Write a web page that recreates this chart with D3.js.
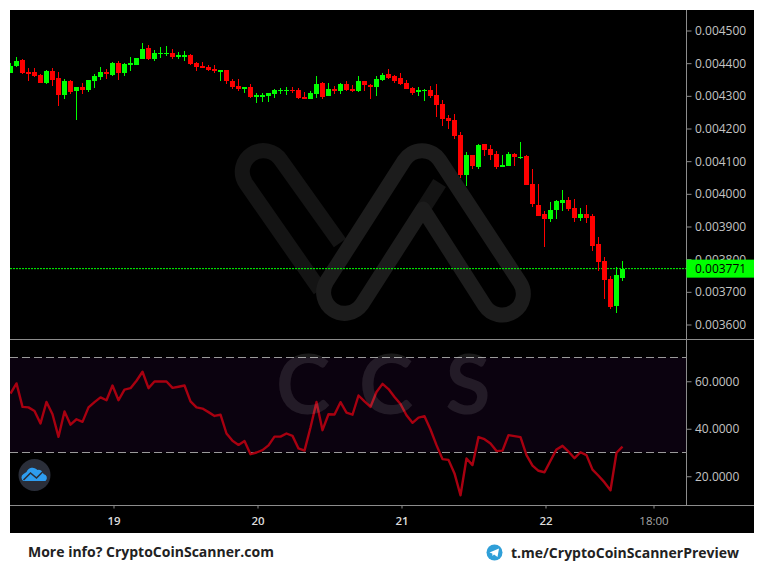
<!DOCTYPE html>
<html><head><meta charset="utf-8">
<script src="https://cdnjs.cloudflare.com/ajax/libs/d3/7.8.5/d3.min.js"></script>
<style>
html,body{margin:0;padding:0;background:#fff;overflow:hidden}
text{font-family:"Open Sans",sans-serif}
</style></head><body>
<svg id="c" width="764" height="580"></svg>
<script>
// prices in millionths
const opens=[4371,4391,4409,4373,4373,4364,4339,4376,4355,4303,4345,4315,4327,4318,4345,4358,4373,4364,4400,4370,4394,4394,4413,4446,4413,4428,4428,4431,4419,4419,4425,4400,4391,4388,4382,4373,4379,
4345,4330,4321,4327,4296,4296,4300,4306,4315,4315,4318,4318,4296,4290,4306,4339,4300,4321,4315,4336,4321,4315,4345,4333,4327,4348,4367,4361,4355,4339,4324,4312,4315,4318,4303,4275,4232,
4226,4180,4058,4119,4082,4153,4137,4122,4082,4085,4122,4110,4116,4030,3966,3938,3923,3951,3972,3981,3957,3926,3938,3932,3846,3794,3739,3657,3742];
const highs=[4399,4418,4412,4385,4385,4367,4379,4385,4373,4352,4348,4327,4339,4348,4367,4388,4382,4404,4407,4400,4419,4416,4462,4456,4440,4449,4453,4443,4434,4437,4428,4404,4404,4394,4394,4379,4379,
4352,4352,4327,4336,4309,4309,4309,4321,4324,4327,4327,4324,4312,4315,4361,4342,4339,4330,4339,4345,4333,4361,4345,4336,4361,4370,4382,4364,4370,4348,4327,4327,4321,4330,4336,4287,4241,
4244,4189,4128,4119,4153,4153,4150,4131,4119,4128,4125,4159,4119,4076,4030,3948,3975,3981,4012,3990,3984,3957,3966,3938,3868,3807,3749,3776,3794];
const lows=[4371,4387,4367,4346,4358,4339,4336,4330,4269,4290,4306,4226,4306,4312,4324,4348,4352,4361,4348,4361,4376,4394,4413,4410,4407,4416,4422,4413,4413,4407,4394,4376,4385,4376,4370,4345,4336,
4321,4315,4309,4293,4278,4281,4281,4293,4306,4303,4309,4290,4290,4290,4293,4290,4300,4306,4306,4315,4312,4312,4315,4290,4300,4345,4352,4339,4333,4321,4303,4300,4284,4293,4235,4208,4198,
4168,4049,4024,4076,4076,4116,4104,4076,4082,4085,4085,4107,4027,3960,3932,3837,3914,3923,3948,3948,3914,3917,3911,3825,3764,3678,3648,3635,3733];
const closes=[4391,4407,4369,4367,4362,4339,4376,4348,4303,4345,4312,4327,4318,4348,4361,4373,4367,4400,4370,4397,4400,4416,4443,4413,4431,4431,4431,4419,4425,4425,4397,4388,4385,4379,4376,4379,4345,
4327,4321,4327,4296,4303,4303,4309,4318,4318,4318,4315,4293,4290,4309,4336,4296,4321,4315,4336,4318,4315,4345,4333,4327,4352,4364,4355,4345,4336,4321,4309,4318,4318,4300,4272,4229,4223,
4177,4058,4119,4085,4150,4134,4119,4082,4088,4122,4113,4113,4027,3969,3932,3923,3951,3978,3981,3954,3926,3938,3926,3840,3791,3736,3654,3752,3771];
const rsi=[54.8,59.1,49.2,49.0,47.5,42.2,51.3,46.1,36.6,47.3,41.7,44.0,42.9,49.0,51.2,53.2,52.0,58.2,52.0,56.5,57.1,60.2,64.0,57.1,59.9,59.9,59.9,57.2,57.7,58.2,51.5,49.0,48.5,47.0,45.4,45.9,38.0,34.9,33.2,34.8,29.3,30.0,31.0,33.0,36.7,36.7,38.0,37.0,31.7,30.8,40.5,51.3,39.4,46.1,
46.0,51.2,46.8,45.9,54.0,51.5,49.2,55.5,58.9,56.7,53.4,50.4,45.7,42.5,44.7,45.3,39.7,33.1,27.2,26.9,21.2,12.0,27.5,24.7,36.5,35.6,33.8,30.6,30.8,37.3,36.9,36.5,28.9,24.5,22.3,21.7,26.5,31.3,32.8,30.4,27.6,30.1,28.9,22.8,20.2,17.4,14.1,29.9,32.5];
const priceTicks=[4500,4400,4300,4200,4100,4000,3900,3800,3700,3600];
const rsiTicks=[60,40,20];
const rsiBands=[70,30];
const lastPrice=3771;
const timeTicks=[0,24,48,72,90];
const timeLabels=["19","20","21","22","18:00"];
const firstHour=-17;

const L=10,R=754,T=10,B=533,AX=686.5,SEP=339.5,XB=505.5;
const green="#00ff00",red="#ff0000";
const svg=d3.select("#c");
const x=d3.scaleLinear().domain([0,144]).range([113.5,113.5+864]);
const candleShift=-1;
const cx=i=>x(firstHour+i)+candleShift;
const y=d3.scaleLinear().domain([4500,3600]).range([30.5,324.5]);
const yr=d3.scaleLinear().domain([70,30]).range([357.5,452.5]);

svg.append("rect").attr("x",L).attr("y",T).attr("width",R-L).attr("height",B-T).attr("fill","#000");

const defs=svg.append("defs");
defs.append("clipPath").attr("id","plot").append("rect").attr("x",L).attr("y",T).attr("width",AX-L).attr("height",SEP-T);
defs.append("clipPath").attr("id","plot2").append("rect").attr("x",L).attr("y",SEP).attr("width",AX-L).attr("height",XB-SEP);

// logo watermark
const wm=svg.append("g").attr("fill","none").attr("stroke-width",15).attr("stroke-linecap","butt").attr("stroke-linejoin","round");
wm.append("path").attr("stroke","#141414").attr("d","M340,243 L280.9,160.2 A21,21 0 0 0 245.7,183.2 L320,290");
wm.append("path").attr("stroke","#141414").attr("d","M423,209 L439.6,183");
wm.append("path").attr("stroke","#1c1c1c").attr("d","M423,209 L484.7,305.5 A21,21 0 0 0 519.9,282.5 L439.6,160.2 A21,21 0 0 0 404.4,160.3 L326.4,281.9 A21,21 0 0 0 361.6,304.7 Z");

// RSI band
svg.append("rect").attr("x",L).attr("width",AX-L).attr("y",yr(70)).attr("height",yr(30)-yr(70)).attr("fill","#0b020f");
svg.selectAll(".band").data(rsiBands).join("line").attr("x1",L).attr("x2",AX)
  .attr("y1",d=>yr(d)).attr("y2",d=>yr(d)).attr("stroke","#9a9a9a").attr("stroke-width",1).attr("stroke-dasharray","8 4");

// RSI line
svg.append("path").datum(rsi).attr("clip-path","url(#plot2)").attr("fill","none").attr("stroke","#a80010").attr("stroke-width",2.4)
  .attr("stroke-linejoin","round")
  .attr("d",d3.line().x((d,i)=>cx(i)).y(d=>yr(d)));

// CCS watermark
svg.append("g").attr("font-size",82).attr("font-weight",700).attr("fill","#fff").attr("fill-opacity",0.1)
  .selectAll("text").data([["C",303],["C",386],["S",468]]).join("text")
  .attr("x",d=>d[1]).attr("y",414).attr("text-anchor","middle").text(d=>d[0]).style("font-family","Lato,sans-serif");

// last price line
svg.append("line").attr("x1",L).attr("x2",AX).attr("y1",y(lastPrice)).attr("y2",y(lastPrice))
  .attr("stroke",green).attr("stroke-width",1).attr("stroke-dasharray","2 1");

// candles
const g=svg.append("g").attr("clip-path","url(#plot)").attr("shape-rendering","crispEdges");
const idx=d3.range(opens.length);
g.selectAll(".w").data(idx).join("rect").attr("x",i=>cx(i)-0.5).attr("width",1)
  .attr("y",i=>y(highs[i])).attr("height",i=>Math.max(1,y(lows[i])-y(highs[i])))
  .attr("fill",i=>closes[i]>=opens[i]?green:red);
g.selectAll(".b").data(idx).join("rect").attr("x",i=>cx(i)-2.5).attr("width",5)
  .attr("y",i=>y(Math.max(opens[i],closes[i]))).attr("height",i=>Math.max(1,Math.abs(y(opens[i])-y(closes[i]))))
  .attr("fill",i=>closes[i]>=opens[i]?green:red);

// axes
const axisCol="#8c8c8c",txt="#c4c4c4";
function style(sel){sel.selectAll("path").remove();sel.selectAll("line").attr("stroke",axisCol);sel.selectAll("text").attr("fill",txt).style("font-size","12px").style("font-family",'"Open Sans",sans-serif');}
svg.append("g").attr("transform",`translate(${AX},0)`).call(d3.axisRight(y).tickValues(priceTicks).tickSize(5).tickPadding(3.5).tickFormat(d=>(d/1e6).toFixed(6))).call(style);
svg.append("g").attr("transform",`translate(${AX},0)`).call(d3.axisRight(yr).tickValues(rsiTicks).tickSize(5).tickPadding(3.5).tickFormat(d=>d.toFixed(4))).call(style);
const xa=svg.append("g").attr("transform",`translate(0,${XB})`).call(d3.axisBottom(x).tickValues(timeTicks).tickSize(3).tickPadding(8).tickFormat((d,i)=>timeLabels[i])).call(style);
xa.selectAll("text").attr("fill",(d,i)=>i<4?"#dcdcdc":"#a8a8a8").style("font-weight",(d,i)=>i<4?600:400).style("font-size","11.5px");

const rules=svg.append("g").attr("stroke",axisCol).attr("stroke-width",1);
rules.append("line").attr("x1",L).attr("x2",R).attr("y1",SEP).attr("y2",SEP);
rules.append("line").attr("x1",L).attr("x2",R).attr("y1",XB).attr("y2",XB);
rules.append("line").attr("x1",AX).attr("x2",AX).attr("y1",T).attr("y2",XB);

// price tag
svg.append("rect").attr("x",AX).attr("y",y(lastPrice)-9).attr("width",R-AX).attr("height",18).attr("fill",green);
svg.append("text").attr("x",695).attr("y",y(lastPrice)).attr("dy","0.34em").attr("font-size",12).attr("fill","#000").text((lastPrice/1e6).toFixed(6));

// badge
const ic=svg.append("g").attr("transform","translate(34.5,475)");
ic.append("circle").attr("r",16).attr("fill","#2a2e39");
ic.append("path").attr("fill","#2e9df0").attr("d","M-11,6 A4,4 0 0 1 -11,-1 L-8,-3 A6.5,6.5 0 0 1 3,-5 A5,5 0 0 1 9,-1 A4,4 0 0 1 11,6 Z");
ic.append("path").attr("fill","none").attr("stroke","#2a2e39").attr("stroke-width",1.6).attr("d","M-11,5 L-4,-2 L2,3 L9,-4");

// footer
svg.append("text").attr("x",28).attr("y",557).attr("font-size",14).attr("font-weight",700).attr("fill","#222").text("More info? CryptoCoinScanner.com");
svg.append("text").attr("x",511).attr("y",558).attr("font-size",14).attr("font-weight",700).attr("fill","#222").text("t.me/CryptoCoinScannerPreview");
const tg=svg.append("g").attr("transform","translate(494.5,552.5)");
tg.append("circle").attr("r",8).attr("fill","#2f9fd8");
tg.append("path").attr("fill","#fff").attr("d","M-5,0 L4.5,-4 L3,4.5 L-0.5,2 L-2,3.5 L-2.2,1 Z");
</script></body></html>
